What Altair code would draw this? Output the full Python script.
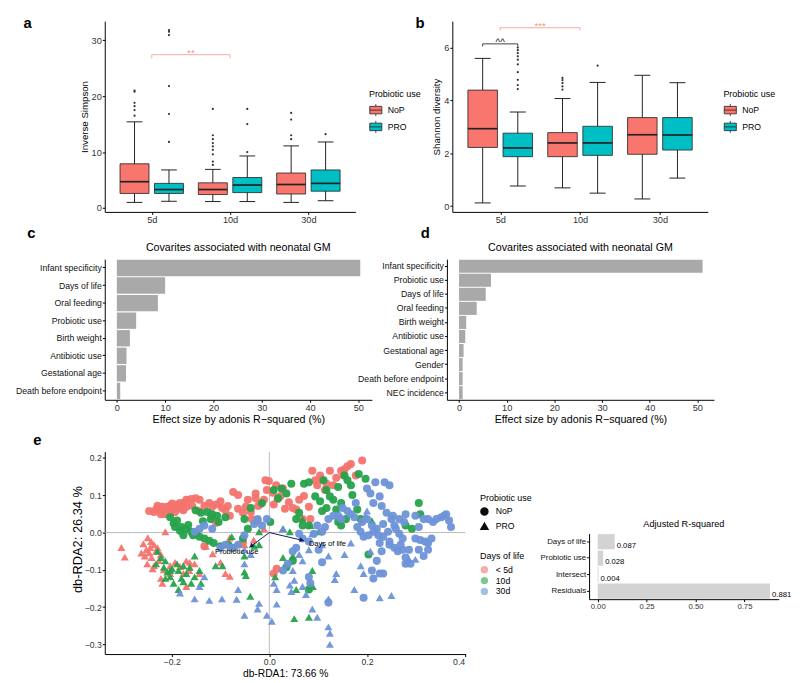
import math
import altair as alt
import pandas as pd

FONT = "Liberation Sans"
INK = "#222222"
RED_SIG = "#F1948A"

# ---------------- panels a / b : box-plot summaries ----------------
groups = ["5d", "10d", "30d"]
series = ["NoP", "PRO"]
box_colors = ["#F8766D", "#00BFC4"]

# order of boxes: 5d-NoP, 5d-PRO, 10d-NoP, 10d-PRO, 30d-NoP, 30d-PRO
a_lo = [1.0, 1.2, 1.15, 1.15, 1.0, 1.3]
a_q1 = [2.6, 2.6, 2.4, 2.75, 2.5, 3.0]
a_med = [4.7, 3.3, 3.3, 4.1, 4.2, 4.4]
a_q3 = [7.9, 4.4, 4.5, 5.45, 6.25, 6.8]
a_hi = [15.4, 6.8, 6.9, 9.3, 11.1, 11.8]
a_outliers = [
    [21.0, 20.8, 18.8, 18.2, 17.5, 16.5],
    [31.8, 31.5, 30.9, 21.8, 16.8, 11.8],
    [17.7, 13.0, 12.3, 11.6, 11.0, 10.4, 9.6, 8.3, 7.7],
    [17.7, 15.0, 10.0],
    [17.0, 15.8, 13.0, 12.3],
    [13.2],
]
a_sig = [("5d", None, "10d", None, 27.4, 0.65, "**", RED_SIG)]

b_lo = [0.12, 0.76, 0.69, 0.49, 0.27, 1.06]
b_q1 = [2.22, 1.87, 1.87, 1.92, 1.96, 2.12]
b_med = [2.93, 2.20, 2.39, 2.39, 2.70, 2.69]
b_q3 = [4.39, 2.76, 2.78, 3.02, 3.35, 3.35]
b_hi = [5.59, 3.56, 4.07, 4.68, 4.95, 4.67]
b_outliers = [
    [],
    [6.0, 5.9, 5.79, 5.67, 5.54, 5.36, 5.07, 4.78, 4.58, 4.43],
    [4.85, 4.77, 4.66, 4.53, 4.41],
    [5.32],
    [],
    [],
]
b_sig = [("5d", None, "10d", None, 6.75, 0.1, "***", RED_SIG),
         ("5d", "NoP", "5d", "PRO", 6.14, 0.1, "^^", "#111111")]

# ---------------- panels c / d : adonis effect sizes ----------------
cov_title = "Covarites associated with neonatal GM"
c_vars = ["Infant specificity", "Days of life", "Oral feeding", "Probiotic use",
          "Birth weight", "Antibiotic use", "Gestational age", "Death before endpoint"]
c_vals = [50.4, 10.0, 8.5, 4.0, 2.7, 2.0, 1.9, 0.7]
d_vars = ["Infant specificity", "Probiotic use", "Days of life", "Oral feeding",
          "Birth weight", "Antibiotic use", "Gestational age", "Gender",
          "Death before endpoint", "NEC incidence"]
d_vals = [51.1, 6.7, 5.6, 3.7, 1.5, 1.3, 0.95, 0.75, 0.75, 0.75]

# ---------------- panel e : db-RDA ----------------
days = ["< 5d", "10d", "30d"]
day_colors = ["#F4736E", "#26A24B", "#6D92D8"]

e_lt5_nop = [(-0.246,0.058),(-0.232,0.062),(-0.226,0.064),(-0.219,0.069),(-0.216,0.058),(-0.209,0.069),(-0.203,0.072),(-0.196,0.066),(-0.189,0.075),(-0.183,0.079),(-0.222,0.049),(-0.213,0.049),(-0.203,0.053),(-0.193,0.055),(-0.183,0.064),(-0.173,0.081),(-0.170,0.069),(-0.160,0.090),(-0.151,0.092),(-0.143,0.088),(-0.133,0.072),(-0.123,0.079),(-0.117,0.069),(-0.109,0.075),(-0.100,0.084),(-0.090,0.060),(-0.081,0.045),(-0.074,0.109),(-0.064,0.101),(-0.054,0.053),(-0.048,0.069),(-0.036,0.036),(-0.028,0.092),(-0.019,0.075),(-0.011,0.088),(-0.008,0.140),(-0.005,0.114),(-0.001,0.138),(0.007,0.107),(0.014,0.127),(0.017,0.090),(0.023,0.098),(0.032,0.064),(0.040,0.081),(0.048,0.066),(0.055,0.062),(0.061,0.088),(0.071,0.098),(0.081,0.069),(0.088,0.166),(0.098,0.127),(0.108,0.141),(0.114,0.114),(0.124,0.166),(0.131,0.127),(0.137,0.147),(0.147,0.166),(0.154,0.170),(0.160,0.178),(0.167,0.184),(0.177,0.153),(0.190,0.193),(0.152,0.153),(-0.117,0.041),(-0.109,0.026),(-0.133,-0.037),(-0.054,-0.026),(-0.028,0.105),(-0.023,0.071),(-0.170,0.088),(-0.158,0.072),(-0.145,0.058),(-0.097,0.066),(-0.085,0.071),(-0.064,0.064),(-0.044,0.088),(-0.038,0.055),(-0.024,0.032),(0.028,0.118),(0.009,0.075),(0.068,0.036),(0.084,0.036),(0.094,0.140),(0.104,0.153),(0.117,0.131),(0.015,-0.097),(0.009,-0.110),(-0.236,0.055),(-0.229,0.072),(-0.206,0.060),(-0.199,0.078),(-0.186,0.068),(-0.176,0.060)]
e_lt5_pro = [(-0.303,-0.040),(-0.296,-0.066),(-0.249,-0.014),(-0.242,-0.024),(-0.252,-0.046),(-0.246,-0.054),(-0.236,-0.033),(-0.255,-0.063),(-0.241,-0.067),(-0.250,-0.084),(-0.236,-0.089),(-0.222,-0.059),(-0.229,-0.041),(-0.239,-0.097),(-0.219,-0.136),(-0.213,0.002),(-0.222,-0.123),(-0.203,-0.110),(-0.193,-0.080),(-0.183,-0.091),(-0.176,-0.110),(-0.170,-0.076),(-0.164,-0.102),(-0.163,-0.080),(-0.153,-0.084),(-0.143,-0.110),(-0.130,-0.037),(-0.116,-0.057),(-0.100,-0.080),(-0.090,-0.110),(-0.081,-0.117),(-0.203,-0.089),(-0.081,-0.014),(-0.064,-0.031),(-0.051,-0.033),(-0.011,0.010),(-0.032,-0.020),(-0.170,-0.145),(-0.258,-0.030),(-0.244,-0.040),(-0.232,-0.050),(-0.226,-0.075),(-0.262,-0.055),(-0.216,-0.100)]
e_10_nop = [(-0.151,0.060),(-0.140,0.053),(-0.127,0.055),(-0.117,0.049),(-0.107,0.045),(-0.203,0.041),(-0.189,0.032),(-0.180,0.015),(-0.170,0.010),(-0.160,0.002),(-0.150,-0.003),(-0.143,-0.011),(-0.133,-0.016),(-0.123,-0.022),(-0.114,-0.028),(-0.100,-0.037),(-0.084,-0.033),(-0.074,-0.041),(-0.193,0.015),(-0.176,-0.007),(-0.156,-0.007),(-0.104,0.028),(-0.090,0.041),(-0.051,0.036),(-0.038,0.066),(-0.015,0.079),(0.009,0.114),(0.018,0.092),(0.025,0.118),(0.035,0.105),(0.045,0.131),(0.055,0.036),(0.061,0.053),(0.071,0.131),(0.081,0.135),(0.094,0.097),(0.104,0.084),(0.111,0.140),(0.117,0.114),(0.124,0.097),(0.131,0.088),(0.141,0.122),(0.154,0.153),(0.160,0.140),(0.170,0.101),(0.183,0.157),(0.197,0.144),(0.167,0.127),(0.147,0.079),(0.137,0.062),(0.117,0.066),(0.108,0.058),(0.068,0.019),(0.081,0.019),(0.141,0.028),(0.180,0.062),(0.187,0.036),(0.035,-0.093),(0.048,-0.076),(0.203,-0.059),(0.279,0.019),(0.292,0.010),(0.306,0.079),(0.309,0.049),(0.147,0.019),(0.157,0.036),(0.081,-0.153),(0.002,0.028),(-0.044,0.010),(-0.054,-0.016),(-0.196,0.025),(-0.183,0.005),(-0.166,0.020),(-0.136,0.030),(-0.120,0.036)]
e_10_pro = [(-0.229,-0.050),(-0.222,-0.067),(-0.232,-0.084),(-0.216,-0.093),(-0.209,-0.106),(-0.203,-0.119),(-0.213,-0.123),(-0.196,-0.136),(-0.186,-0.153),(-0.176,-0.132),(-0.170,-0.110),(-0.160,-0.136),(-0.153,-0.119),(-0.143,-0.102),(-0.140,-0.136),(-0.186,-0.102),(-0.176,-0.089),(-0.163,-0.093),(-0.189,-0.084),(-0.199,-0.097),(-0.213,-0.076),(-0.203,-0.102),(-0.180,-0.123),(-0.153,-0.063),(-0.110,-0.089),(-0.096,-0.089),(-0.077,-0.011),(-0.051,-0.106),(-0.048,-0.115),(-0.039,-0.171),(-0.051,-0.063),(-0.021,-0.033),(0.028,0.010),(0.042,0.002),(0.068,0.036),(0.084,0.019),(0.101,0.002),(0.210,0.032),(0.012,-0.119),(0.051,-0.231),(0.081,-0.227),(0.048,-0.063),(0.028,-0.067),(-0.021,0.002),(-0.031,-0.037),(0.055,-0.153),(0.084,-0.141),(0.088,-0.102),(0.089,-0.145)]
e_30_nop = [(0.200,0.118),(0.207,0.105),(0.213,0.079),(0.217,0.135),(0.226,0.097),(0.230,0.071),(0.236,0.135),(0.246,0.127),(0.240,0.053),(0.250,0.036),(0.256,0.019),(0.266,-0.003),(0.273,-0.046),(0.279,-0.067),(0.246,-0.024),(0.230,-0.050),(0.220,-0.076),(0.210,-0.102),(0.213,-0.123),(0.286,-0.046),(0.299,0.045),(0.306,0.015),(0.316,0.036),(0.325,0.036),(0.335,0.028),(0.342,0.036),(0.352,0.041),(0.358,0.045),(0.362,0.049),(0.368,0.032),(0.372,0.015),(0.299,-0.016),(0.309,-0.020),(0.319,-0.024),(0.325,-0.028),(0.332,-0.016),(0.306,-0.046),(0.316,-0.063),(0.325,-0.046),(0.266,0.036),(0.276,0.028),(0.279,0.049),(0.253,0.045),(0.259,0.010),(0.243,0.002),(0.233,0.023),(0.220,0.010),(0.210,0.019),(0.200,0.036),(0.190,0.028),(0.180,0.015),(0.174,0.041),(0.167,0.049),(0.160,0.058),(0.150,0.066),(0.141,0.045),(0.131,0.045),(0.121,0.036),(0.114,0.015),(0.108,0.002),(0.098,0.019),(0.091,-0.003),(0.081,-0.024),(0.068,-0.016),(0.061,-0.003),(0.055,-0.041),(0.048,-0.050),(0.038,-0.084),(0.028,-0.102),(0.081,-0.119),(0.084,-0.136),(0.101,-0.046),(0.108,-0.080),(0.147,0.036),(0.177,0.079),(0.187,0.002),(0.193,-0.011),(0.203,-0.007),(0.213,0.002),(0.223,-0.007),(0.233,-0.011),(0.226,-0.028),(0.246,-0.033),(0.256,-0.041),(0.263,-0.050),(0.269,-0.033),(0.273,-0.016),(0.279,-0.084),(0.289,-0.084),(0.226,-0.110),(0.233,-0.110),(0.121,-0.188),(0.193,-0.175),(-0.117,0.010),(-0.100,-0.041),(-0.090,-0.033),(-0.077,-0.041),(-0.064,-0.033),(-0.051,-0.007),(-0.024,0.036),(-0.015,0.019),(-0.005,0.036),(-0.031,0.023),(-0.143,0.010),(-0.133,0.019),(-0.153,0.002)]
e_30_pro = [(-0.183,-0.162),(-0.153,-0.178),(-0.123,-0.182),(-0.097,-0.178),(-0.067,-0.179),(-0.064,-0.153),(-0.051,-0.222),(-0.024,-0.205),(-0.021,-0.190),(-0.005,-0.222),(0.005,-0.238),(0.015,-0.192),(0.009,-0.136),(0.015,-0.153),(0.042,-0.141),(0.045,-0.158),(0.051,-0.128),(0.068,-0.145),(0.075,-0.166),(0.088,-0.205),(0.098,-0.227),(0.121,-0.178),(0.121,-0.253),(0.124,-0.270),(0.124,-0.300),(0.134,-0.126),(0.137,-0.110),(0.174,-0.153),(0.193,-0.110),(0.187,-0.089),(0.207,-0.050),(0.226,-0.175),(0.250,-0.169),(0.286,-0.072),(0.299,-0.072),(0.081,-0.046),(0.088,-0.003),(0.108,-0.033),(0.121,-0.063),(0.061,-0.059),(0.068,-0.076),(0.048,-0.102),(0.154,-0.059),(0.167,-0.028),(0.197,0.045),(0.200,0.058),(-0.038,-0.059),(-0.051,-0.084),(-0.051,-0.046),(-0.143,-0.145),(-0.133,-0.119),(0.028,0.010)]

vec_names = ["Days of life", "Probiotic use"]
vec_x = [0.071, -0.041]
vec_y = [-0.022, -0.040]
vec_label_x = [0.119, -0.067]
vec_label_y = [-0.030, -0.053]

adj_title = "Adjusted R-squared"
adj_terms = ["Days of life", "Probiotic use", "Intersect", "Residuals"]
adj_vals = [0.087, 0.028, 0.004, 0.881]

# ---------------- layout constants ----------------
OFF = {"NoP": -0.22, "PRO": 0.22}
HALF, CAP = 0.185, 0.10
W_AB, H_AB = 253.8, 193.2
W_B = 258.7
W_CD, H_CD = 270.5, 142.5
W_E, H_E = 365.5, 205.0
W_ADJ, H_ADJ = 192.0, 66.4
E_XDOM = [-0.337, 0.402]
E_YDOM = [-0.326, 0.217]
BOX_KEY = "M -1 -0.62 H 1 V 0.62 H -1 Z M -1 0 H 1 M 0 -0.62 V -1 M 0 0.62 V 1"


def AX(**kw):
    base = dict(domain=True, domainColor="black", domainWidth=1, ticks=True, tickColor="black",
                tickWidth=1, tickSize=2.5, labelColor="#333333", labelFont=FONT, titleFont=FONT,
                titleColor="black", titleFontWeight="normal", grid=False, labelPadding=1)
    base.update(kw)
    return alt.Axis(**base)


def one(v="x"):
    return pd.DataFrame({"t": [v]})


def letter(t, x, y):
    return alt.Chart(one(t)).mark_text(
        fontSize=15, fontWeight="bold", align="left", baseline="alphabetic", color="black", font=FONT
    ).encode(text="t:N", x=alt.value(x), y=alt.value(y))


def heading(t, x, y, size):
    return alt.Chart(one(t)).mark_text(
        fontSize=size, align="center", baseline="middle", color="black", font=FONT
    ).encode(text="t:N", x=alt.value(x), y=alt.value(y))


def anchor(x, y1, y2):
    return alt.Chart(one()).mark_rule(color="white", strokeWidth=0.5).encode(
        x=alt.value(x), y=alt.value(y1), y2=alt.value(y2))


def xpos(g, s):
    return groups.index(g) + 1 + (OFF[s] if s else 0)


def stats_df(lo, q1, med, q3, hi):
    rows, k = [], 0
    for gi, g in enumerate(groups):
        for s in series:
            c = gi + 1 + OFF[s]
            rows.append({"group": g, "use": s, "pos": c, "left": c - HALF, "right": c + HALF,
                         "cl": c - CAP, "cr": c + CAP, "lo": lo[k], "q1": q1[k],
                         "med": med[k], "q3": q3[k], "hi": hi[k]})
            k += 1
    return pd.DataFrame(rows)


def outl_df(outs):
    rows, k = [], 0
    for gi, g in enumerate(groups):
        for s in series:
            for v in outs[k]:
                rows.append({"pos": gi + 1 + OFF[s], "val": v})
            k += 1
    return pd.DataFrame(rows)


def sig_dfs(sigs):
    segs, labs = [], []
    for g1, s1, g2, s2, y, drop, lab, col in sigs:
        x1, x2 = xpos(g1, s1), xpos(g2, s2)
        segs.append({"bx": x1, "bx2": x2, "by": y, "by2": y, "col": col})
        segs.append({"bx": x1, "bx2": x1, "by": y, "by2": y - drop, "col": col})
        segs.append({"bx": x2, "bx2": x2, "by": y, "by2": y - drop, "col": col})
        labs.append({"lx": (x1 + x2) / 2, "ly": y, "lab": lab, "col": col})
    return pd.DataFrame(segs), pd.DataFrame(labs)


label_expr = "[" + ",".join("'%s'" % g for g in groups) + "][datum.value - 1]"


def box_panel(lo, q1, med, q3, hi, outs, sigs, ydom, yvals, ytitle, ytitle_x, w, leg_x,
              let, let_x, let_y, anc=None):
    st = stats_df(lo, q1, med, q3, hi)
    xs = alt.Scale(domain=[0.4, 3.6], nice=False, zero=False)
    ys = alt.Scale(domain=ydom, nice=False, zero=False)
    xax = AX(values=[1, 2, 3], labelExpr=label_expr, title=None, labelFontSize=9.3)
    yax = AX(values=yvals, title=ytitle, titleX=ytitle_x, titleY=H_AB / 2, titleAngle=270,
             titleAlign="center", titleBaseline="middle", titleFontSize=9.8, labelFontSize=9.3)

    def X(f):
        return alt.X(f, scale=xs, axis=xax)

    def Y(f):
        return alt.Y(f, scale=ys, axis=yax)

    base = alt.Chart(st)
    whisk = base.mark_rule(color=INK, strokeWidth=1).encode(x=X("pos:Q"), y=Y("lo:Q"), y2="hi:Q")
    cap_lo = base.mark_rule(color=INK, strokeWidth=1).encode(x=X("cl:Q"), x2="cr:Q", y=Y("lo:Q"))
    cap_hi = base.mark_rule(color=INK, strokeWidth=1).encode(x=X("cl:Q"), x2="cr:Q", y=Y("hi:Q"))
    box = base.mark_rect(stroke=INK, strokeWidth=0.8).encode(
        x=X("left:Q"), x2="right:Q", y=Y("q1:Q"), y2="q3:Q",
        fill=alt.Fill("use:N", scale=alt.Scale(domain=series, range=box_colors),
                      legend=alt.Legend(title="Probiotic use", orient="none", legendX=leg_x, legendY=70,
                                        symbolType=BOX_KEY, symbolSize=150, symbolStrokeColor="#222222",
                                        symbolStrokeWidth=0.8, titleFontSize=9.1, labelFontSize=8.8,
                                        rowPadding=1, titlePadding=4, labelOffset=5,
                                        titleFont=FONT, labelFont=FONT, titleFontWeight="normal",
                                        titleColor="black", labelColor="black")))
    medl = base.mark_rule(color=INK, strokeWidth=1.7).encode(x=X("left:Q"), x2="right:Q", y=Y("med:Q"))
    pts = alt.Chart(outl_df(outs)).mark_circle(size=5, color="#333333", opacity=1).encode(
        x=X("pos:Q"), y=Y("val:Q"))
    segs, labs = sig_dfs(sigs)
    br = alt.Chart(segs).mark_rule(strokeWidth=0.8).encode(
        x=X("bx:Q"), x2="bx2:Q", y=Y("by:Q"), y2="by2:Q", color=alt.Color("col:N", scale=None))
    bl = alt.Chart(labs).mark_text(fontSize=10, baseline="alphabetic", dy=1, font=FONT).encode(
        x=X("lx:Q"), y=Y("ly:Q"), text="lab:N", color=alt.Color("col:N", scale=None))
    layers = []
    if anc:
        layers.append(anchor(*anc))
    layers += [whisk, cap_lo, cap_hi, box, medl, pts, br, bl, letter(let, let_x, let_y)]
    return alt.layer(*layers).properties(width=w, height=H_AB)


panel_a = box_panel(a_lo, a_q1, a_med, a_q3, a_hi, a_outliers, a_sig, [-0.7, 33.4], [0, 10, 20, 30],
                    "Inverse Simpson", -20.6, W_AB, 267.5, "a", -82.3, 6.8, anc=(-97.0, -7.8, 206.5))
panel_b = box_panel(b_lo, b_q1, b_med, b_q3, b_hi, b_outliers, b_sig, [-0.22, 7.0], [0, 2, 4, 6],
                    "Shannon diversity", -16.0, W_B, 274.5, "b", -37.2, 6.8)


def cov_panel(names, vals, xdom, let, let_x, anc=None):
    df = pd.DataFrame({"var": names, "val": vals})
    bars = alt.Chart(df).mark_bar(color="#A9A9A9").encode(
        x=alt.X("val:Q", scale=alt.Scale(domain=xdom, nice=False, zero=False),
                axis=AX(values=[0, 10, 20, 30, 40, 50], title="Effect size by adonis R\u2212squared (%)",
                        titleX=W_CD / 2, titleY=19.8, titleBaseline="middle", titleAlign="center",
                        titleFontSize=10.8, labelFontSize=9.3)),
        x2=alt.datum(0),
        y=alt.Y("var:N", sort=names, scale=alt.Scale(paddingInner=0.07, paddingOuter=0.04),
                axis=AX(title=None, labelFontSize=8.8, labelColor="#111111")))
    layers = []
    if anc:
        layers.append(anchor(*anc))
    layers += [bars, heading(cov_title, W_CD / 2, -10.8, 10.8), letter(let, let_x, -21.5)]
    return alt.layer(*layers).properties(width=W_CD, height=H_CD)


panel_c = cov_panel(c_vars, c_vals, [-2.5, 52.8], "c", -78.4, anc=(-92.1, -33.7, 171.8))
panel_d = cov_panel(d_vars, d_vals, [-2.55, 53.5], "d", -26.5)

# ---------------- panel e ----------------
rows = []
for day, use, pts in [("< 5d", "NoP", e_lt5_nop), ("< 5d", "PRO", e_lt5_pro),
                      ("10d", "NoP", e_10_nop), ("10d", "PRO", e_10_pro),
                      ("30d", "NoP", e_30_nop), ("30d", "PRO", e_30_pro)]:
    for x, y in pts:
        rows.append({"x": x, "y": y, "day": day, "use": use})
edf = pd.DataFrame(rows)

exs = alt.Scale(domain=E_XDOM, nice=False, zero=False)
eys = alt.Scale(domain=E_YDOM, nice=False, zero=False)
exa = AX(values=[-0.2, 0, 0.2, 0.4], format=".1f", title="db-RDA1: 73.66 %", titleX=W_E / 2,
         titleY=19.5, titleBaseline="middle", titleAlign="center", titleFontSize=10.4, labelFontSize=8.8)
eya = AX(values=[-0.3, -0.2, -0.1, 0, 0.1, 0.2], format=".1f", title="db-RDA2: 26.34 %", titleX=-27.5,
         titleY=88.5, titleAngle=270, titleAlign="center", titleBaseline="middle", titleFontSize=13,
         labelFontSize=8.8)


def EX(f):
    return alt.X(f, scale=exs, axis=exa)


def EY(f):
    return alt.Y(f, scale=eys, axis=eya)


px_x = W_E / (E_XDOM[1] - E_XDOM[0])
px_y = H_E / (E_YDOM[1] - E_YDOM[0])
angles = [(math.degrees(math.atan2(vx * px_x, vy * px_y)) + 360) % 360 for vx, vy in zip(vec_x, vec_y)]
vdf = pd.DataFrame({"name": vec_names, "x0": [0, 0], "y0": [0, 0], "vx": vec_x, "vy": vec_y,
                    "ang": angles, "lx": vec_label_x, "ly": vec_label_y})

zero_df = pd.DataFrame({"z": [0]})
vline = alt.Chart(zero_df).mark_rule(color="#AAAAAA", strokeWidth=0.8).encode(x=EX("z:Q"))
hline = alt.Chart(zero_df).mark_rule(color="#AAAAAA", strokeWidth=0.8).encode(y=EY("z:Q"))
points = alt.Chart(edf).mark_point(filled=True, size=66, opacity=0.95).encode(
    x=EX("x:Q"), y=EY("y:Q"),
    color=alt.Color("day:N", scale=alt.Scale(domain=days, range=day_colors),
                    legend=alt.Legend(title="Days of life", orient="none", legendX=380, legendY=102,
                                      symbolType="circle", symbolSize=55, symbolOpacity=0.6,
                                      titleFontSize=9.1, labelFontSize=8.8, rowPadding=1,
                                      titlePadding=4, labelOffset=7, titleFont=FONT, labelFont=FONT,
                                      titleFontWeight="normal", titleColor="black", labelColor="black")),
    shape=alt.Shape("use:N", scale=alt.Scale(domain=series, range=["circle", "triangle-up"]),
                    legend=alt.Legend(title="Probiotic use", orient="none", legendX=380, legendY=43,
                                      symbolFillColor="black", symbolStrokeColor="black", symbolSize=50,
                                      titleFontSize=9.1, labelFontSize=8.8, rowPadding=1,
                                      titlePadding=4, labelOffset=7, titleFont=FONT, labelFont=FONT,
                                      titleFontWeight="normal", titleColor="black", labelColor="black")))
NAVY = "#16165C"
arrows = alt.Chart(vdf).mark_rule(color=NAVY, strokeWidth=1).encode(
    x=EX("x0:Q"), y=EY("y0:Q"), x2="vx:Q", y2="vy:Q")
heads = alt.Chart(vdf).mark_point(shape="M -0.55 1 L 0 0 L 0.55 1 Z", filled=True, size=80,
                                  color=NAVY, opacity=1).encode(
    x=EX("vx:Q"), y=EY("vy:Q"), angle=alt.Angle("ang:Q", scale=None))
vlabels = alt.Chart(vdf).mark_text(fontSize=7.6, color="black", font=FONT).encode(
    x=EX("lx:Q"), y=EY("ly:Q"), text="name:N")

panel_e = alt.layer(anchor(-87.2, -21.5, 227.4), vline, hline, points, arrows, heads, vlabels,
                    letter("e", -72.5, -6.8)).properties(width=W_E, height=H_E)

adf = pd.DataFrame({"term": adj_terms, "val": adj_vals, "lab": ["%.3f" % v for v in adj_vals]})
adj_xs = alt.Scale(domain=[-0.044, 0.925], nice=False, zero=False)
adj_xa = AX(values=[0, 0.25, 0.5, 0.75], format=".2f", title=None, labelFontSize=7.8)
adj_ys = alt.Scale(paddingInner=0.08, paddingOuter=0.03)
adj_ya = AX(title=None, labelFontSize=8.0, labelColor="#111111")
adj_bars = alt.Chart(adf).mark_bar(color="#D3D3D3").encode(
    x=alt.X("val:Q", scale=adj_xs, axis=adj_xa), x2=alt.datum(0),
    y=alt.Y("term:N", sort=adj_terms, scale=adj_ys, axis=adj_ya))
adj_text = alt.Chart(adf).mark_text(align="left", baseline="middle", dx=2, dy=4, fontSize=7.8,
                                    color="black", font=FONT).encode(
    x=alt.X("val:Q", scale=adj_xs, axis=adj_xa),
    y=alt.Y("term:N", sort=adj_terms, scale=adj_ys, axis=adj_ya), text="lab:N")
panel_adj = alt.layer(adj_bars, adj_text, heading(adj_title, W_ADJ / 2, -9.8, 9.3)).properties(
    width=W_ADJ, height=H_ADJ)

spacer = alt.Chart(one()).mark_point(opacity=0).encode(x=alt.value(0), y=alt.value(0)).properties(
    width=1, height=83)

row1 = alt.hconcat(panel_a, panel_b, spacing=98, bounds="flush").resolve_scale(fill="independent")
row2 = alt.hconcat(panel_c, panel_d, spacing=75.5, bounds="flush")
row3 = alt.hconcat(panel_e, alt.vconcat(spacer, panel_adj, spacing=0, bounds="flush"),
                   spacing=124.5, bounds="flush")

chart = alt.vconcat(row1, row2, row3, spacing=0).resolve_scale(
    color="independent", fill="independent", shape="independent"
).properties(padding=0).configure_view(stroke=None).configure_axis(
    domainColor="black", tickColor="black", labelFont=FONT, titleFont=FONT, grid=False
).configure_legend(
    labelFont=FONT, titleFont=FONT, titleFontWeight="normal"
).configure_text(font=FONT)

chart.save("out.html", embed_options={"renderer": "svg", "actions": False})
